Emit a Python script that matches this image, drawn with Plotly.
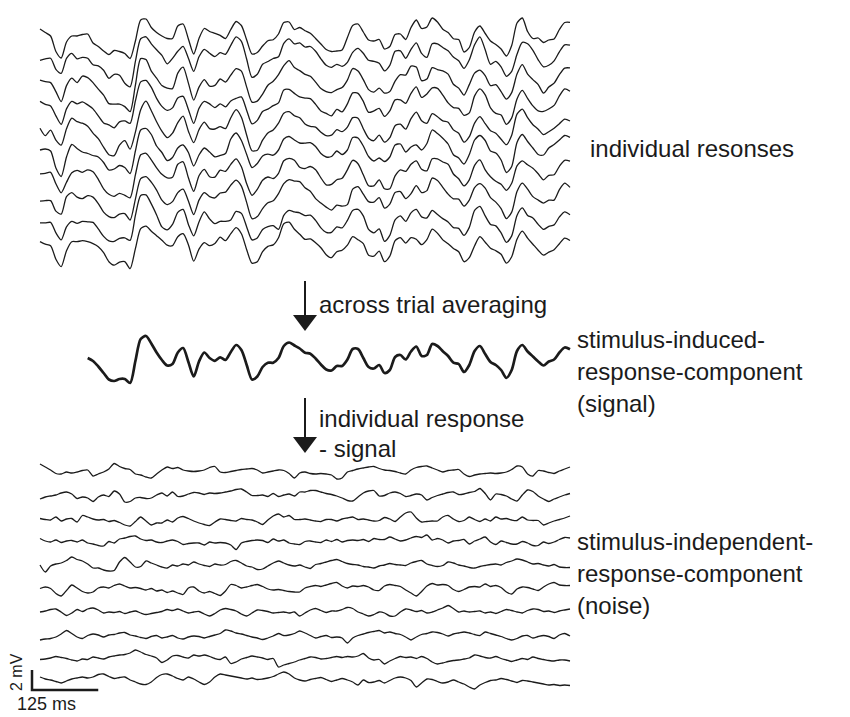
import numpy as np
import plotly.graph_objects as go

# ---------------- data ----------------
time_ms = list(range(0, 1001, 10))

signal_mV = [0.3, 0.25, 0.2, -1.0, -1.6, -0.2, 0.5, 0.4, 0.4, 0.4,
             0.1, -0.45, -1.1, -1.75, -1.9, -1.7, -1.7, -2.1, 0.1, 2.3,
             2.6, 1.85, 0.95, 0.2, -0.35, -0.2, 0.95, 1.4, 0.0, -1.45,
             0.05, 0.95, 0.4, 0.12, 0.46, 0.2, 1.0, 1.7, 1.2, -0.3,
             -1.75, -1.45, -0.5, -0.07, -0.07, 0.4, 1.6, 1.95, 1.65, 1.35,
             0.93, 0.83, 0.35, -0.25, -0.75, -0.85, -0.4, -0.4, 0.25, 1.3,
             1.3, 0.4, -0.5, -0.65, -0.3, -1.1, -0.8, 0.5, 0.7, 0.25,
             1.05, 1.55, 0.6, 0.7, 1.8, 1.6, 1.08, 0.6, -0.07, -0.2,
             -1.0, -0.3, 1.1, 1.6, 0.8, 0.0, -0.3, -0.8, -1.6, -0.8,
             1.1, 1.7, 1.05, 0.55, 0.05, -0.35, 0.05, 0.25, 0.95, 1.45,
             1.27]

noise_trial_01 = [0.6, 0.3, 0.0, -0.35, -0.4, -0.2, -0.3, -0.2, -0.05, 0.0,
                  -0.6, -0.4, -0.2, 0.1, 0.65, 0.35, 0.15, 0.05, -0.4, -0.5,
                  -0.7, -0.8, -0.4, 0.0, 0.3, 0.15, 0.25, 0.0, -0.1, -0.15,
                  -0.1, 0.0, 0.25, 0.35, -0.2, -0.25, -0.15, -0.05, 0.05, 0.1,
                  0.15, 0.0, -0.3, -0.2, -0.1, 0.0, -0.05, -0.35, -0.8, -0.3,
                  -0.2, -0.35, -0.4, -0.35, -0.4, -0.5, -0.9, -0.8, -0.2, -0.05,
                  0.1, 0.2, 0.3, 0.35, 0.15, 0.0, -0.05, -0.15, -0.3, -0.4,
                  0.0, 0.25, 0.35, 0.4, 0.2, 0.0, -0.2, -0.05, 0.0, 0.05,
                  -0.4, -0.65, -0.5, -0.4, -0.35, -0.3, -0.35, -0.3, -0.2, 0.05,
                  0.4, 0.3, -0.4, -0.6, -0.05, -0.1, -0.25, -0.35, -0.1, 0.1,
                  0.3]
noise_trial_02 = [-0.2, 0.0, 0.1, 0.2, 0.4, 0.5, 0.3, -0.15, 0.0, -0.1,
                  -0.45, 0.0, 0.2, 0.05, 0.6, 0.3, -0.5, -0.45, -0.1, -0.05,
                  -0.15, -0.1, 0.2, 0.4, 0.1, 0.5, 0.05, 0.1, 0.3, 0.45,
                  0.4, 0.25, 0.4, 0.35, 0.4, 0.5, 0.6, 0.75, 0.8, 0.5,
                  0.15, 0.15, 0.2, 0.05, 0.35, 0.05, 0.2, 0.3, 0.1, 0.5,
                  0.5, 0.65, 0.65, 0.5, 0.35, 0.25, 0.1, -0.1, -0.35, -0.4,
                  0.0, 0.4, 0.6, 0.65, 0.1, 0.15, 0.4, 0.5, 0.35, 0.05,
                  0.15, 0.3, 0.2, -0.3, -0.05, 0.15, 0.3, 0.45, 0.5, 0.25,
                  0.3, 0.45, 0.55, 0.85, 0.35, -0.3, 0.3, 0.25, 0.1, -0.2,
                  -0.4, 0.2, 0.7, 0.55, 0.1, -0.2, -0.45, -0.2, 0.0, 0.2,
                  0.35]
noise_trial_03 = [0.15, 0.05, 0.0, 0.3, -0.1, 0.1, 0.15, -0.2, 0.45, 0.3,
                  0.1, 0.0, 0.05, -0.15, -0.05, -0.25, -0.5, -0.6, -0.15, 0.3,
                  -0.1, -0.5, -0.3, -0.3, 0.0, -0.2, 0.2, 0.35, 0.15, -0.1,
                  -0.3, -0.45, -0.55, -0.2, 0.1, 0.05, -0.05, -0.1, 0.15, 0.05,
                  0.0, -0.2, -0.45, 0.0, 0.4, 0.6, 0.3, 0.45, 0.05, 0.05,
                  0.1, 0.0, -0.1, -0.15, 0.05, 0.05, -0.1, 0.1, 0.2, 0.3,
                  0.05, 0.1, 0.0, -0.1, -0.05, 0.25, 0.1, -0.15, 0.3, 0.7,
                  0.8, 0.2, -0.2, -0.15, -0.1, -0.1, 0.3, 0.45, 0.1, -0.15,
                  -0.05, 0.3, 0.05, -0.15, 0.1, -0.1, 0.3, 0.1, 0.15, 0.0,
                  -0.05, 0.3, 0.0, -0.05, -0.05, -0.5, -0.3, -0.1, 0.05, 0.2,
                  0.4]
noise_trial_04 = [0.35, 0.1, 0.0, 0.2, -0.05, 0.1, 0.15, 0.0, 0.2, -0.1,
                  -0.2, -0.35, -0.4, 0.05, -0.1, 0.3, 0.4, 0.55, 0.6, 0.3,
                  0.15, 0.2, 0.0, -0.05, 0.1, 0.2, 0.05, -0.25, -0.15, -0.1,
                  -0.1, -0.3, 0.0, -0.1, -0.05, -0.1, -0.3, -0.75, -0.1, 0.05,
                  0.15, 0.2, 0.15, -0.05, 0.3, 0.1, 0.2, -0.1, -0.2, -0.25,
                  0.05, 0.1, 0.0, -0.05, 0.2, 0.05, 0.25, 0.0, 0.15, 0.2,
                  0.15, 0.25, 0.05, 0.35, 0.25, 0.25, 0.5, 0.3, 0.1, 0.2,
                  0.4, 0.55, 0.45, 0.7, 0.2, 0.35, 0.2, -0.1, 0.1, 0.15,
                  0.25, -0.2, 0.1, 0.3, 0.5, 0.0, -0.25, 0.1, -0.05, -0.2,
                  -0.2, 0.05, -0.1, -0.35, -0.35, 0.0, -0.15, 0.0, 0.25, 0.45,
                  0.4]
noise_trial_05 = [0.0, -0.7, -0.1, 0.1, 0.2, 0.45, 0.8, 0.55, 0.4, 0.1,
                  -0.3, -0.3, -0.5, -0.6, -0.55, 0.3, 0.75, 0.3, -0.2, -0.15,
                  0.4, 0.2, 0.0, -0.2, -0.3, 0.0, -0.1, 0.1, 0.0, 0.3,
                  0.1, -0.05, -0.15, 0.1, 0.0, 0.05, 0.35, 0.45, 0.2, -0.1,
                  -0.2, -0.45, -0.4, -0.1, 0.2, 0.4, 0.2, 0.0, -0.1, 0.0,
                  -0.2, -0.35, 0.05, 0.15, 0.3, 0.45, 0.55, 0.35, 0.15, 0.05,
                  0.0, -0.15, -0.2, -0.3, -0.1, 0.0, 0.15, 0.05, 0.0, -0.05,
                  0.2, 0.35, 0.45, 0.1, -0.05, -0.15, -0.05, 0.3, 0.2, 0.0,
                  -0.1, -0.25, -0.3, -0.15, -0.05, 0.05, 0.1, 0.0, 0.25, 0.4,
                  0.6, 0.5, 0.3, 0.1, 0.15, 0.0, -0.1, 0.05, -0.2, -0.25,
                  -0.25]
noise_trial_06 = [0.15, 0.3, 0.15, -0.35, -0.6, -0.05, 0.5, 0.2, -0.15, -0.3,
                  -0.2, 0.2, 0.3, 0.2, 0.45, 0.6, 0.4, 0.2, 0.25, 0.15,
                  0.0, 0.15, -0.1, 0.0, -0.25, -0.1, -0.3, -0.45, 0.2, 0.3,
                  -0.1, -0.3, -0.15, -0.35, -0.55, -0.1, 0.55, 0.45, 0.2, 0.3,
                  0.45, 0.55, 0.35, 0.1, 0.0, 0.05, -0.05, -0.15, -0.2, -0.2,
                  0.2, 0.35, 0.45, 0.35, 0.5, 0.65, 0.75, 0.4, 0.2, 0.4,
                  0.35, 0.45, 0.3, 0.0, -0.05, 0.4, 0.55, 0.45, 0.35, 0.0,
                  -0.3, -0.6, -0.15, 0.4, 0.65, 0.5, 0.55, 0.45, 0.05, -0.15,
                  0.05, 0.3, 0.35, 0.3, 0.6, 0.35, 0.45, 0.25, -0.2, -0.4,
                  0.1, 0.3, 0.25, 0.1, -0.05, 0.3, 0.6, 0.75, 0.5, 0.45,
                  0.45]
noise_trial_07 = [0.1, 0.2, 0.35, 0.4, 0.1, -0.25, 0.0, 0.35, 0.15, 0.4,
                  0.5, 0.3, 0.0, 0.1, 0.05, 0.15, -0.05, 0.1, 0.2, 0.0,
                  -0.15, -0.05, 0.05, 0.15, 0.35, 0.25, 0.4, 0.2, 0.0, 0.1,
                  0.15, -0.1, -0.3, -0.05, 0.3, 0.45, 0.35, 0.2, -0.1, -0.3,
                  0.0, 0.3, 0.25, 0.15, 0.0, 0.05, 0.1, 0.0, 0.1, -0.3,
                  0.0, 0.3, 0.45, 0.25, 0.05, 0.2, 0.2, 0.35, 0.55, 0.45,
                  0.1, -0.1, -0.3, -0.15, 0.1, 0.0, -0.3, -0.3, 0.1, 0.4,
                  0.3, 0.15, 0.25, 0.0, 0.1, 0.3, 0.5, 0.75, 0.45, 0.1,
                  0.2, 0.1, 0.15, 0.2, 0.0, 0.1, -0.05, 0.15, 0.35, 0.25,
                  0.1, 0.0, 0.25, 0.4, 0.35, 0.15, 0.2, 0.05, 0.2, 0.3,
                  0.4]
noise_trial_08 = [-0.3, -0.2, -0.15, 0.0, 0.3, 0.65, 0.35, 0.0, -0.15, 0.15,
                  0.3, 0.2, 0.0, 0.2, 0.25, 0.4, 0.45, 0.2, 0.1, -0.05,
                  -0.15, 0.05, 0.15, -0.1, 0.0, 0.15, -0.1, -0.2, 0.0, 0.1,
                  0.05, -0.1, 0.05, 0.2, 0.35, 0.7, 0.6, 0.4, 0.3, 0.15,
                  0.0, -0.1, -0.25, -0.1, 0.1, 0.35, 0.15, 0.2, 0.35, 0.6,
                  0.4, 0.15, -0.1, 0.05, 0.15, -0.05, 0.0, -0.1, -0.6, -0.1,
                  0.15, 0.3, 0.45, 0.55, 0.65, 0.4, 0.5, 0.35, 0.25, 0.0,
                  -0.3, 0.0, 0.25, 0.35, 0.5, 0.45, 0.3, 0.1, 0.3, 0.4,
                  0.5, 0.4, 0.25, 0.15, 0.5, 0.35, 0.2, 0.05, -0.15, -0.3,
                  -0.15, 0.1, 0.15, -0.1, 0.05, 0.15, 0.05, -0.15, 0.2, 0.35,
                  0.1]
noise_trial_09 = [-0.15, -0.1, 0.0, 0.15, 0.05, -0.05, -0.2, -0.3, -0.1, -0.15,
                  0.1, 0.0, -0.1, 0.1, 0.2, 0.3, 0.35, 0.5, 0.8, 0.6,
                  0.35, 0.2, 0.0, -0.45, -0.2, 0.2, 0.25, 0.1, 0.0, 0.3,
                  0.2, 0.3, 0.15, -0.05, -0.15, 0.1, -0.55, -0.4, -0.1, 0.05,
                  0.2, 0.1, 0.0, -0.15, -0.05, -0.9, -0.7, -0.55, -0.4, -0.2,
                  -0.05, 0.1, 0.05, -0.1, -0.05, 0.05, 0.15, 0.05, 0.15, 0.1,
                  0.2, 0.45, 0.0, -0.2, -0.15, -0.6, -0.3, -0.05, 0.15, 0.05,
                  0.1, -0.05, 0.15, -0.05, -0.4, -0.6, -0.5, -0.35, -0.25, -0.2,
                  -0.1, 0.0, 0.3, 0.2, 0.05, 0.0, 0.15, -0.05, -0.2, -0.35,
                  -0.2, -0.05, -0.15, 0.1, -0.05, -0.15, -0.25, -0.3, -0.2, -0.2,
                  -0.3]
noise_trial_10 = [0.3, 0.1, 0.0, -0.15, -0.3, -0.1, 0.1, 0.2, 0.3, 0.2,
                  0.3, 0.55, 0.6, 0.35, 0.15, 0.25, 0.3, 0.0, -0.2, -0.4,
                  -0.45, -0.2, 0.25, 0.55, 0.6, 0.4, 0.15, 0.0, 0.3, 0.1,
                  -0.2, -0.45, -0.2, 0.3, 0.6, 0.5, 0.4, 0.3, 0.2, 0.1,
                  0.2, 0.05, 0.1, 0.2, 0.35, 0.6, 0.8, 0.6, 0.2, 0.0,
                  -0.1, 0.05, 0.15, 0.25, 0.05, -0.15, 0.0, 0.15, 0.0, -0.2,
                  -0.5, 0.0, -0.25, -0.2, -0.05, -0.3, -0.05, 0.2, 0.3, 0.2,
                  -0.05, -0.7, -0.3, 0.1, 0.05, -0.15, -0.3, -0.2, 0.0, -0.2,
                  -0.4, -0.7, -0.9, -0.5, -0.25, -0.05, 0.0, 0.15, 0.05, -0.1,
                  -0.25, -0.05, -0.1, -0.2, -0.3, -0.4, -0.5, -0.45, -0.55, -0.5,
                  -0.55]

scale_bar_ms = 125
scale_bar_mV = 2

label_individual = "individual resonses"
label_avg = "across trial averaging"
label_signal = ["stimulus-induced-", "response-component", "(signal)"]
label_sub = ["individual response", "- signal"]
label_noise = ["stimulus-independent-", "response-component", "(noise)"]
label_mv = "2 mV"
label_ms = "125 ms"

# ---------------- layout constants ----------------
W, H = 850, 717
T0_PX = 40.0        # pixel column of t = 0
PX_PER_MS = 0.53
PX_PER_MV = 10.0
IND_BASE_PX = [38 + 23.3 * k for k in range(10)]
NOISE_BASE_PX = [470, 497, 520, 542, 565, 590, 613, 637, 658, 680]
SIGNAL_BASE_PX = 362
SIGNAL_START_MS = 90
INK = "#1b1b1b"
FONT = "Liberation Sans, Arial, Helvetica, sans-serif"
TXT = 24


def t_of(px):
    return (px - T0_PX) / PX_PER_MS


def v_of(py):
    return -py / PX_PER_MV


t = np.array(time_ms, dtype=float)
sig = np.array(signal_mV)
noises = [noise_trial_01, noise_trial_02, noise_trial_03, noise_trial_04, noise_trial_05,
          noise_trial_06, noise_trial_07, noise_trial_08, noise_trial_09, noise_trial_10]

fig = go.Figure()
thin = dict(color=INK, width=1.3, shape="spline", smoothing=0.7)

# individual responses = signal + noise of each trial
for k, nz in enumerate(noises):
    fig.add_trace(go.Scatter(x=t, y=sig + np.array(nz) + v_of(IND_BASE_PX[k]), mode="lines",
                             line=thin, hoverinfo="skip", showlegend=False))

# signal (across-trial average)
m = t >= SIGNAL_START_MS
fig.add_trace(go.Scatter(x=t[m], y=sig[m] + v_of(SIGNAL_BASE_PX), mode="lines",
                         line=dict(color=INK, width=2.7, shape="spline", smoothing=0.8),
                         hoverinfo="skip", showlegend=False))

# noise traces
for k, nz in enumerate(noises):
    fig.add_trace(go.Scatter(x=t, y=np.array(nz) + v_of(NOISE_BASE_PX[k]), mode="lines",
                             line=thin, hoverinfo="skip", showlegend=False))

# scale bar
sb_t = t_of(32)
sb_v = v_of(690)
fig.add_trace(go.Scatter(x=[sb_t, sb_t, sb_t + scale_bar_ms], y=[sb_v + scale_bar_mV, sb_v, sb_v],
                         mode="lines", line=dict(color=INK, width=2.5), hoverinfo="skip",
                         showlegend=False))

# arrows
shapes = []
for top, tip in [(281, 331), (398, 453)]:
    xc = t_of(305)
    shapes.append(dict(type="line", xref="x", yref="y", x0=xc, x1=xc, y0=v_of(top), y1=v_of(tip - 12),
                       line=dict(color=INK, width=2)))
    path = "M {a},{b} L {c},{d} L {e},{f} Z".format(
        a=t_of(305 - 12), b=v_of(tip - 16), c=t_of(305 + 12), d=v_of(tip - 16),
        e=xc, f=v_of(tip))
    shapes.append(dict(type="path", xref="x", yref="y", path=path, fillcolor=INK,
                       line=dict(color=INK, width=0)))

annotations = []


def add_text(txt, px, py, size=TXT, anchor="left", angle=0):
    annotations.append(dict(text=txt, x=px / W, y=1 - py / H, xref="paper", yref="paper",
                            xanchor=anchor, yanchor="middle", showarrow=False, textangle=angle,
                            font=dict(family=FONT, size=size, color=INK)))


add_text(label_individual, 588, 148)
add_text(label_avg, 317, 304)
for i, s in enumerate(label_signal):
    add_text(s, 575, 339 + 32 * i)
for i, s in enumerate(label_sub):
    add_text(s, 317, 418 + 30 * i)
for i, s in enumerate(label_noise):
    add_text(s, 575, 541 + 32 * i)
add_text(label_mv, 16, 672, size=16, anchor="center", angle=-90)
add_text(label_ms, 46, 704, size=18, anchor="center")

fig.update_layout(
    width=W, height=H, margin=dict(l=0, r=0, t=0, b=0),
    paper_bgcolor="white", plot_bgcolor="white",
    xaxis=dict(range=[t_of(0), t_of(W)], visible=False, fixedrange=True),
    yaxis=dict(range=[v_of(H), v_of(0)], visible=False, fixedrange=True),
    shapes=shapes, annotations=annotations, showlegend=False,
)

fig.write_html("out.html")
